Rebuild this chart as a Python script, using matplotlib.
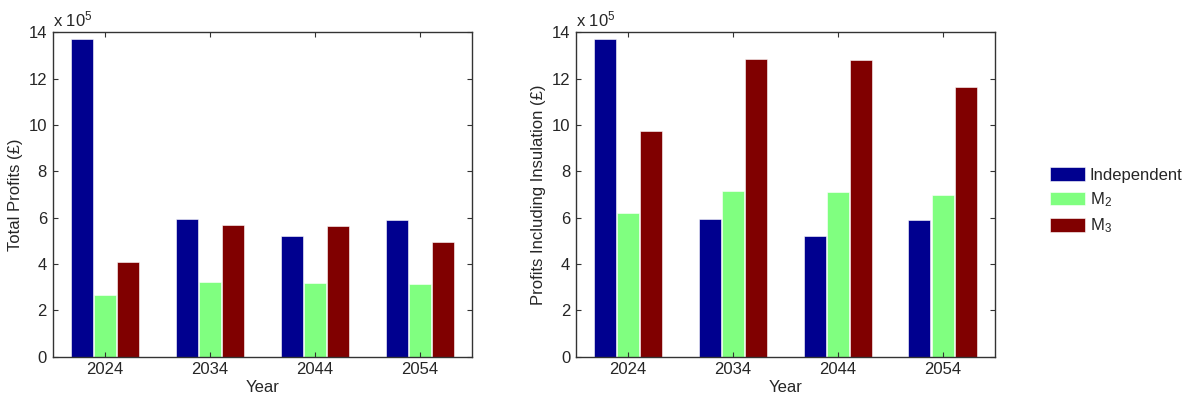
import numpy as np
import matplotlib
matplotlib.use('Agg')
import matplotlib.pyplot as plt

plt.rcParams['font.family'] = ['Liberation Sans', 'DejaVu Sans']
plt.rcParams['mathtext.default'] = 'regular'

# profits in units of 1e5 GBP
years = ['2024', '2034', '2044', '2054']
series = ['Independent', 'M$_2$', 'M$_3$']
total_independent = [13.73, 5.93, 5.22, 5.88]
total_m2 = [2.68, 3.21, 3.19, 3.13]
total_m3 = [4.07, 5.70, 5.64, 4.97]
insul_independent = [13.73, 5.93, 5.22, 5.88]
insul_m2 = [6.21, 7.14, 7.11, 6.96]
insul_m3 = [9.75, 12.85, 12.80, 11.65]

colors = ['#00008f', '#80ff80', '#800000']
txt = '#262626'
fs = 12


def draw_panel(ax, data, ylabel):
    x = np.arange(1, len(years) + 1)
    offsets = [-0.222, 0.0, 0.222]
    bars = []
    for vals, off, c, name in zip(data, offsets, colors, series):
        b = ax.bar(x + off, vals, width=0.21, color=c, edgecolor='white',
                   linewidth=0.4, label=name)
        bars.append(b)
    ax.set_xlim(0.5, 4.5)
    ax.set_ylim(0, 14)
    ax.set_xticks(x)
    ax.set_xticklabels(years)
    ax.set_yticks(np.arange(0, 15, 2))
    ax.tick_params(direction='in', top=True, right=True, length=3.5,
                   width=0.8, labelsize=fs, colors='#333333',
                   labelcolor=txt, pad=4)
    for s in ax.spines.values():
        s.set_linewidth(1.0)
        s.set_color('#333333')
    ax.set_xlabel('Year', fontsize=fs, color=txt, labelpad=2)
    ax.set_ylabel(ylabel, fontsize=fs, color=txt, labelpad=4)
    ax.text(0.0, 1.01, 'x 10$^5$', transform=ax.transAxes, ha='left',
            va='bottom', fontsize=fs, color=txt)
    return bars


fig = plt.figure(figsize=(11.88, 4.01), dpi=100)
ax1 = fig.add_axes([0.0442, 0.1105, 0.3535, 0.809])
ax2 = fig.add_axes([0.4846, 0.1105, 0.3530, 0.809])

draw_panel(ax1, [total_independent, total_m2, total_m3], 'Total Profits (£)')
bars = draw_panel(ax2, [insul_independent, insul_m2, insul_m3],
                  'Profits Including Insulation (£)')

fig.legend(handles=bars, labels=series, loc='upper left',
           bbox_to_anchor=(0.878, 0.60), frameon=False, fontsize=fs,
           handlelength=2.1, handleheight=0.9, handletextpad=0.3,
           labelspacing=0.45, borderaxespad=0, labelcolor=txt)

plt.savefig('out.png', dpi=100)
plt.close()
